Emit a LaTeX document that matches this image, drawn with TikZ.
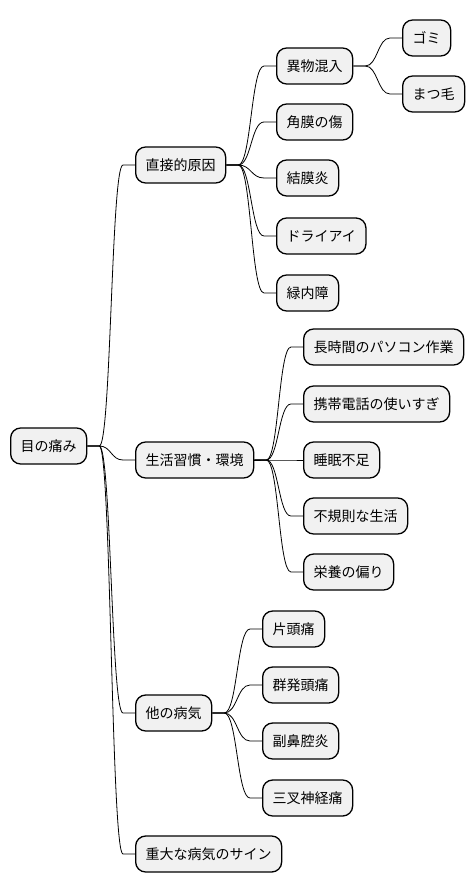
\documentclass[tikz,border=0pt]{standalone}
\usepackage{fontspec}
\setmainfont{Noto Sans CJK JP}
\usetikzlibrary{calc}
\definecolor{mmfill}{HTML}{F1F1F1}
\tikzset{
  mm/.style={draw=black, line width=1.3pt, fill=mmfill, rounded corners=10pt,
    minimum height=36pt, inner xsep=10pt, inner ysep=0pt, anchor=west,
    font=\fontsize{14}{16}\selectfont},
  edge/.style={draw=black, line width=0.8pt}
}
\newcommand\mmconn[2]{%
  \path (#1.east) ++(12,0) coordinate (s);
  \path (#2.west) ++(-12,0) coordinate (e);
  \path ($(s)!0.5!(e)$) coordinate (m);
  \draw[edge] (#1.east) -- (s) .. controls (m|-s) and (m|-e) .. (e) -- (#2.west);
}
\begin{document}
\begin{tikzpicture}[x=1pt,y=-1pt]
\useasboundingbox (0,0) rectangle (474,893);
\node[mm] (root) at (10,446) {目の痛み};
\node[mm] (A) at (135,165) {直接的原因};
\node[mm] (A1) at (276,66) {異物混入};
\node[mm] (A11) at (402,38) {ゴミ};
\node[mm] (A12) at (402,94) {まつ毛};
\node[mm] (A2) at (276,122) {角膜の傷};
\node[mm] (A3) at (276,178) {結膜炎};
\node[mm] (A4) at (276,236) {ドライアイ};
\node[mm] (A5) at (276,293) {緑内障};
\node[mm] (B) at (135,460) {生活習慣・環境};
\node[mm] (B1) at (303,347) {長時間のパソコン作業};
\node[mm] (B2) at (303,404) {携帯電話の使いすぎ};
\node[mm] (B3) at (303,460) {睡眠不足};
\node[mm] (B4) at (303,516) {不規則な生活};
\node[mm] (B5) at (303,572) {栄養の偏り};
\node[mm] (C) at (135,713) {他の病気};
\node[mm] (C1) at (262,629) {片頭痛};
\node[mm] (C2) at (262,685) {群発頭痛};
\node[mm] (C3) at (262,741) {副鼻腔炎};
\node[mm] (C4) at (262,798) {三叉神経痛};
\node[mm] (D) at (135,854) {重大な病気のサイン};
\mmconn{root}{A}
\mmconn{root}{B}
\mmconn{root}{C}
\mmconn{root}{D}
\mmconn{A}{A1}
\mmconn{A}{A2}
\mmconn{A}{A3}
\mmconn{A}{A4}
\mmconn{A}{A5}
\mmconn{A1}{A11}
\mmconn{A1}{A12}
\mmconn{B}{B1}
\mmconn{B}{B2}
\mmconn{B}{B3}
\mmconn{B}{B4}
\mmconn{B}{B5}
\mmconn{C}{C1}
\mmconn{C}{C2}
\mmconn{C}{C3}
\mmconn{C}{C4}
\end{tikzpicture}
\end{document}
